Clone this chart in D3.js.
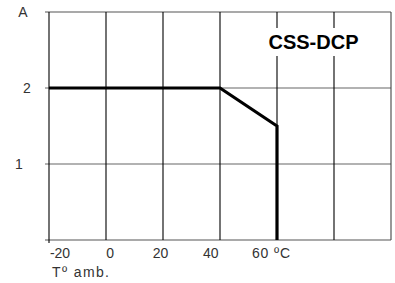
<!DOCTYPE html>
<html><head><meta charset="utf-8">
<script src="https://cdn.jsdelivr.net/npm/d3@7"></script>
<style>body{margin:0;background:#fff}svg{display:block}</style>
</head><body>
<svg id="c" width="395" height="283"></svg>
<script>
const xTicks = [-20, 0, 20, 40, 60, 80, 100];
const xLabels = ["-20", "0", "20", "40", "60 ºC"];
const xLabelVals = [-20, 0, 20, 40, 60];
const yTicks = [0, 1, 2, 3];
const yLabels = ["", "1", "2", "A"];
const curveT = [-20, 40, 60, 60];
const curveA = [2, 2, 1.5, 0];
const title = "CSS-DCP";
const xTitle = "Tº amb.";

const svg = d3.select("#c");
const x = d3.scaleLinear().domain([-20, 100]).range([49, 391]);
const y = d3.scaleLinear().domain([0, 3]).range([240, 12]);
// label placement scale (labels in the original are spaced slightly tighter than the grid)
const xl = d3.scaleLinear().domain([-20, 60]).range([60, 261]);

const font = "'Liberation Sans', Arial, Helvetica, sans-serif";

// horizontal gridlines
svg.append("g").selectAll("line").data(yTicks.slice(1)).join("line")
  .attr("x1", 45).attr("x2", x(100))
  .attr("y1", d => y(d)).attr("y2", d => y(d))
  .attr("stroke", d => d === 3 ? "#555" : "#666").attr("stroke-width", 1.2);
// bottom axis line
svg.append("line").attr("x1", 45).attr("x2", x(100)).attr("y1", y(0)).attr("y2", y(0))
  .attr("stroke", "#555").attr("stroke-width", 1.2);
// vertical gridlines
svg.append("g").selectAll("line").data(xTicks).join("line")
  .attr("x1", d => x(d)).attr("x2", d => x(d))
  .attr("y1", y(3)).attr("y2", d => d === -20 ? y(0) + 3 : y(0))
  .attr("stroke", d => d === 100 ? "#444" : "#000").attr("stroke-width", 1.1);

// curve
svg.append("path")
  .datum(curveT.map((t, i) => [t, curveA[i]]))
  .attr("d", d3.line().x(d => x(d[0])).y(d => y(d[1])))
  .attr("fill", "none").attr("stroke", "#000").attr("stroke-width", 3.2)
  .attr("stroke-linejoin", "miter");

// y labels
const yLabX = {1: 19, 2: 27, 3: 23};
svg.append("g").selectAll("text").data(yTicks.slice(1)).join("text")
  .attr("x", d => yLabX[d]).attr("y", d => y(d) + 5)
  .attr("text-anchor", "middle")
  .attr("font-family", font).attr("font-size", 14).attr("fill", "#333")
  .text(d => yLabels[d]);

// x labels
svg.append("g").selectAll("text").data(xLabelVals).join("text")
  .attr("x", (d, i) => i === xLabels.length - 1 ? 252 : xl(d)).attr("y", 258)
  .attr("text-anchor", (d, i) => i === xLabels.length - 1 ? "start" : "middle")
  .each(function(d, i) { if (i === xLabels.length - 1) d3.select(this).attr("textLength", 38); })
  .attr("font-family", font).attr("font-size", 14).attr("fill", "#333")
  .text((d, i) => xLabels[i]);

svg.append("text").attr("x", 52).attr("y", 277).attr("textLength", 57)
  .attr("font-family", font).attr("font-size", 14).attr("fill", "#333")
  .text(xTitle);

// title with white backing that interrupts the gridlines
svg.append("rect").attr("x", 263).attr("y", 28).attr("width", 102).attr("height", 28).attr("fill", "#fff");
svg.append("text").attr("x", 313.5).attr("y", 49).attr("text-anchor", "middle")
  .attr("font-family", font).attr("font-size", 20).attr("font-weight", "bold").attr("fill", "#000")
  .text(title);
</script>
</body></html>
